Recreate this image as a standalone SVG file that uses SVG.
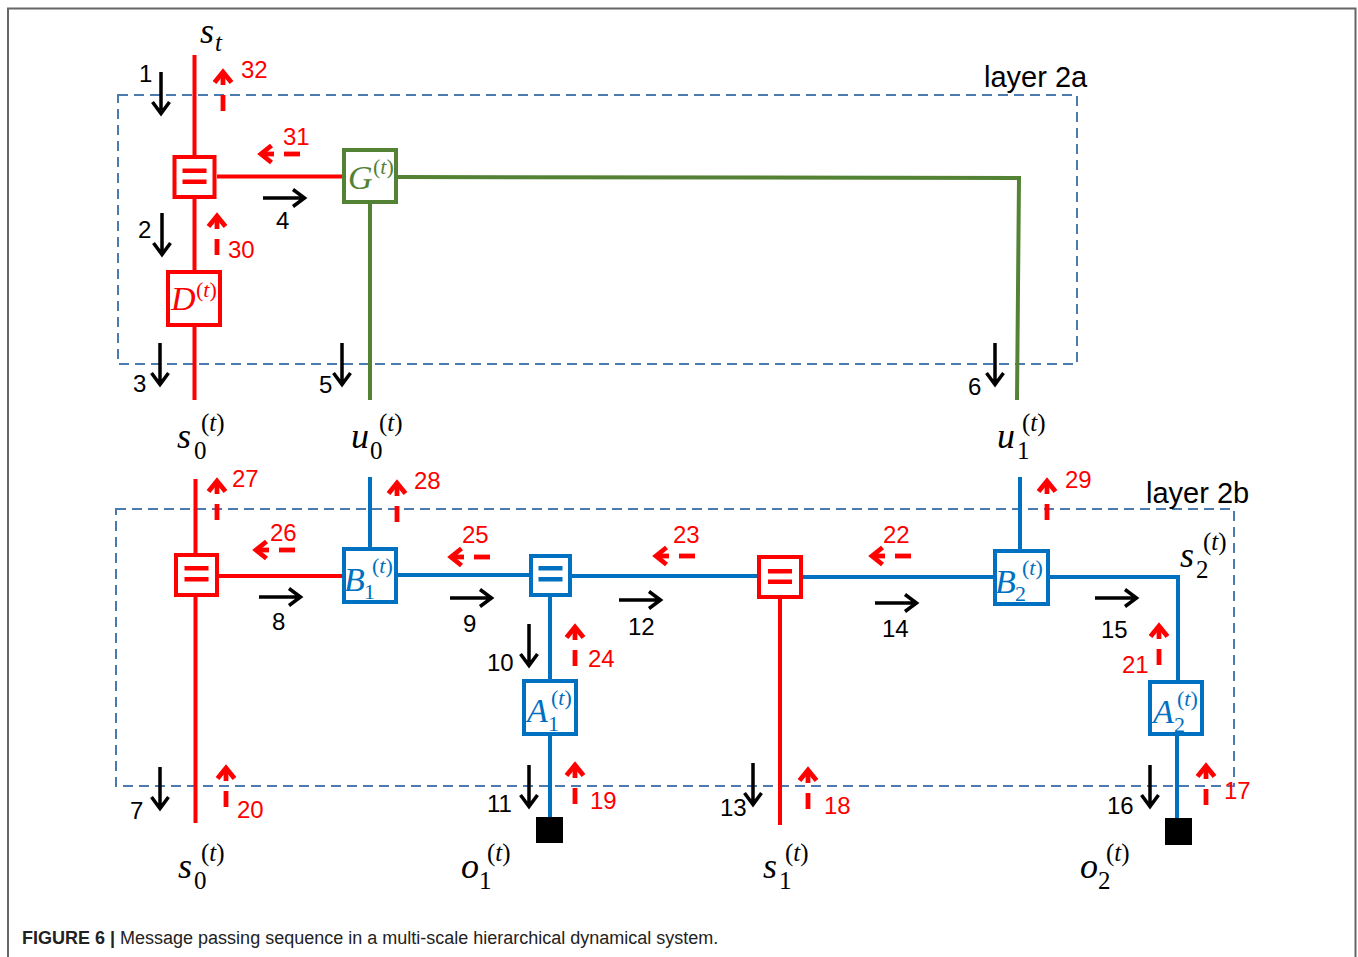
<svg xmlns="http://www.w3.org/2000/svg" width="1358" height="957" viewBox="0 0 1358 957">
<style>
.ln{fill:none;stroke-width:4}
.r{stroke:#ff0000}
.g{stroke:#548235}
.b{stroke:#0070c0}
.box{fill:#fff;stroke-width:4}
.bar{stroke:none}
.dash{fill:none;stroke:#4a7ab0;stroke-width:2;stroke-dasharray:10 6}
.num{font-family:"Liberation Sans",Arial,sans-serif;font-size:24px;fill:#000}
.rn{fill:#ff0000}
.lay{font-family:"Liberation Sans",Arial,sans-serif;font-size:29px;fill:#000}
.m{font-family:"Liberation Serif","Times New Roman",serif;font-style:italic;font-size:36px}
.ms{font-family:"Liberation Serif","Times New Roman",serif;font-size:25px}
.nm{font-family:"Liberation Serif","Times New Roman",serif;font-style:italic;font-size:34px}
.ns{font-family:"Liberation Serif","Times New Roman",serif;font-size:22px}
.it{font-style:italic}
.cap{font-family:"Liberation Sans",Arial,sans-serif;font-size:18px;fill:#222}
</style>
<defs>
<g id="bd"><path d="M0,0 V41 M-8.5,30 L0,41.5 L8.5,30" fill="none" stroke="#000" stroke-width="3.5"/></g>
<g id="ru" fill="none" stroke="#ff0000" stroke-width="4.8"><path d="M0,26 V42"/><path d="M-8.5,13.5 L0,3 L8.5,13.5"/><path d="M0,3 V16"/></g>
</defs>
<path d="M8,957 V8.5 H1355.5 V957" fill="none" stroke="#666" stroke-width="2"/>
<g id="layers">
<rect class="dash" x="118" y="95" width="959" height="269"/>
<text class="lay" x="984" y="87">layer 2a</text>
<rect class="dash" x="116" y="509" width="1118" height="277"/>
<text class="lay" x="1146" y="503">layer 2b</text>
</g>
<g id="connectors">
<path class="ln r" d="M194.5,55 V400"/>
<path class="ln r" d="M217,176.5 H342"/>
<path class="ln g" d="M398,177 L1019,178 L1017,400"/>
<path class="ln g" d="M370,204 V400"/>
<path class="ln r" d="M195.5,479 V823"/>
<path class="ln r" d="M219,576 H342"/>
<path class="ln b" d="M370,477 V547"/>
<path class="ln b" d="M398,575 H529"/>
<path class="ln b" d="M572,576 H757"/>
<path class="ln b" d="M803,577 H993"/>
<path class="ln r" d="M780,599 V825"/>
<path class="ln b" d="M1050,577 H1178 V680"/>
<path class="ln b" d="M1020,477 V549"/>
<path class="ln b" d="M550,597 V679 M550,736 V817"/>
<path class="ln b" d="M1177,736 V818"/>
</g>
<g id="messages">
<use href="#bd" transform="translate(161,72)"/>
<use href="#bd" transform="translate(162,213)"/>
<use href="#bd" transform="translate(160,343)"/>
<use href="#bd" transform="translate(342,343)"/>
<use href="#bd" transform="translate(995,343)"/>
<use href="#bd" transform="translate(160,767)"/>
<use href="#bd" transform="translate(529,624)"/>
<use href="#bd" transform="translate(529,765)"/>
<use href="#bd" transform="translate(753,763)"/>
<use href="#bd" transform="translate(1150,765)"/>
<use href="#bd" transform="translate(263,198) rotate(-90)"/>
<use href="#bd" transform="translate(259,597) rotate(-90)"/>
<use href="#bd" transform="translate(450,598) rotate(-90)"/>
<use href="#bd" transform="translate(619,600) rotate(-90)"/>
<use href="#bd" transform="translate(875,603) rotate(-90)"/>
<use href="#bd" transform="translate(1095,598) rotate(-90)"/>
<use href="#ru" transform="translate(223,69)"/>
<use href="#ru" transform="translate(217,213)"/>
<use href="#ru" transform="translate(217,478)"/>
<use href="#ru" transform="translate(397,480)"/>
<use href="#ru" transform="translate(1047,478)"/>
<use href="#ru" transform="translate(575,624)"/>
<use href="#ru" transform="translate(1159,623)"/>
<use href="#ru" transform="translate(226,765)"/>
<use href="#ru" transform="translate(575,762)"/>
<use href="#ru" transform="translate(808,767)"/>
<use href="#ru" transform="translate(1206,763)"/>
<use href="#ru" transform="translate(258,154) rotate(-90)"/>
<use href="#ru" transform="translate(253,550) rotate(-90)"/>
<use href="#ru" transform="translate(448,557) rotate(-90)"/>
<use href="#ru" transform="translate(653,556) rotate(-90)"/>
<use href="#ru" transform="translate(869,556) rotate(-90)"/>
<text class="num" x="139" y="82">1</text>
<text class="num" x="138" y="238">2</text>
<text class="num" x="133" y="392">3</text>
<text class="num" x="276" y="229">4</text>
<text class="num" x="319" y="393">5</text>
<text class="num" x="968" y="395">6</text>
<text class="num" x="130" y="819">7</text>
<text class="num" x="272" y="630">8</text>
<text class="num" x="463" y="632">9</text>
<text class="num" x="487" y="671">10</text>
<text class="num" x="487" y="812">11</text>
<text class="num" x="628" y="635">12</text>
<text class="num" x="720" y="816">13</text>
<text class="num" x="882" y="637">14</text>
<text class="num" x="1101" y="638">15</text>
<text class="num" x="1107" y="814">16</text>
<text class="num rn" x="1224" y="799">17</text>
<text class="num rn" x="824" y="814">18</text>
<text class="num rn" x="590" y="809">19</text>
<text class="num rn" x="237" y="818">20</text>
<text class="num rn" x="1122" y="673">21</text>
<text class="num rn" x="883" y="543">22</text>
<text class="num rn" x="673" y="543">23</text>
<text class="num rn" x="588" y="667">24</text>
<text class="num rn" x="462" y="543">25</text>
<text class="num rn" x="270" y="541">26</text>
<text class="num rn" x="232" y="487">27</text>
<text class="num rn" x="414" y="489">28</text>
<text class="num rn" x="1065" y="488">29</text>
<text class="num rn" x="228" y="258">30</text>
<text class="num rn" x="283" y="145">31</text>
<text class="num rn" x="241" y="78">32</text>
</g>
<g id="eq-top" fill="#ff0000"><rect class="box r" x="174.5" y="157" width="40" height="40"/><rect class="bar" x="182.5" y="168.5" width="24" height="4.5"/><rect class="bar" x="182.5" y="179.5" width="24" height="4.5"/></g>
<g id="D"><rect class="box r" x="168" y="272" width="52" height="53"/><text class="nm" x="171" y="310" fill="#ff0000">D</text><text class="ns" x="196" y="297" fill="#ff0000">(<tspan class="it">t</tspan>)</text></g>
<g id="G"><rect class="box g" x="344" y="150" width="52" height="52"/><text class="nm" x="348" y="189" fill="#548235">G</text><text class="ns" x="373" y="174" fill="#548235">(<tspan class="it">t</tspan>)</text></g>
<g id="eq-s0" fill="#ff0000"><rect class="box r" x="176" y="555" width="41" height="40"/><rect class="bar" x="184.5" y="566" width="24" height="4.5"/><rect class="bar" x="184.5" y="577" width="24" height="4.5"/></g>
<g id="B1"><rect class="box b" x="344" y="549" width="52" height="53"/><text class="nm" x="344" y="591" fill="#0070c0">B</text><text class="ns" x="364" y="599" fill="#0070c0">1</text><text class="ns" x="372" y="573" fill="#0070c0">(<tspan class="it">t</tspan>)</text></g>
<g id="eq-blue" fill="#0070c0"><rect class="box b" x="531" y="556" width="39" height="39"/><rect class="bar" x="538.5" y="566" width="24" height="4.5"/><rect class="bar" x="538.5" y="577" width="24" height="4.5"/></g>
<g id="eq-s1" fill="#ff0000"><rect class="box r" x="759" y="557" width="42" height="40"/><rect class="bar" x="768" y="569" width="24" height="4.5"/><rect class="bar" x="768" y="579.5" width="24" height="4.5"/></g>
<g id="B2"><rect class="box b" x="995" y="551" width="53" height="53"/><text class="nm" x="995" y="593" fill="#0070c0">B</text><text class="ns" x="1015" y="601" fill="#0070c0">2</text><text class="ns" x="1022" y="575" fill="#0070c0">(<tspan class="it">t</tspan>)</text></g>
<g id="A1"><rect class="box b" x="524" y="681" width="52" height="53"/><text class="nm" x="527" y="722" fill="#0070c0">A</text><text class="ns" x="548" y="731" fill="#0070c0">1</text><text class="ns" x="551" y="705" fill="#0070c0">(<tspan class="it">t</tspan>)</text></g>
<g id="A2"><rect class="box b" x="1150" y="682" width="52" height="52"/><text class="nm" x="1153" y="723" fill="#0070c0">A</text><text class="ns" x="1174" y="732" fill="#0070c0">2</text><text class="ns" x="1177" y="706" fill="#0070c0">(<tspan class="it">t</tspan>)</text></g>
<g id="o1-obs"><rect x="536" y="817" width="27" height="26" fill="#000"/></g>
<g id="o2-obs"><rect x="1165" y="818" width="27" height="27" fill="#000"/></g>
<g id="var-st"><text class="m" x="200" y="43">s</text><text class="ms it" x="215" y="51">t</text></g>
<g id="var-s0-top"><text class="m" x="177" y="448">s</text><text class="ms" x="194" y="459">0</text><text class="ms" x="201" y="431">(<tspan class="it">t</tspan>)</text></g>
<g id="var-u0"><text class="m" x="351" y="448">u</text><text class="ms" x="370" y="459">0</text><text class="ms" x="379" y="431">(<tspan class="it">t</tspan>)</text></g>
<g id="var-u1"><text class="m" x="997" y="448">u</text><text class="ms" x="1017" y="459">1</text><text class="ms" x="1022" y="431">(<tspan class="it">t</tspan>)</text></g>
<g id="var-s2"><text class="m" x="1180" y="567">s</text><text class="ms" x="1196" y="578">2</text><text class="ms" x="1203" y="550">(<tspan class="it">t</tspan>)</text></g>
<g id="var-s0-bot"><text class="m" x="178" y="878">s</text><text class="ms" x="194" y="889">0</text><text class="ms" x="201" y="861">(<tspan class="it">t</tspan>)</text></g>
<g id="var-o1"><text class="m" x="461" y="878">o</text><text class="ms" x="479" y="889">1</text><text class="ms" x="487" y="861">(<tspan class="it">t</tspan>)</text></g>
<g id="var-s1"><text class="m" x="763" y="878">s</text><text class="ms" x="779" y="889">1</text><text class="ms" x="785" y="861">(<tspan class="it">t</tspan>)</text></g>
<g id="var-o2"><text class="m" x="1080" y="878">o</text><text class="ms" x="1098" y="889">2</text><text class="ms" x="1106" y="861">(<tspan class="it">t</tspan>)</text></g>
<text class="cap" x="22" y="944"><tspan font-weight="bold">FIGURE 6 |</tspan> Message passing sequence in a multi-scale hierarchical dynamical system.</text>
</svg>
